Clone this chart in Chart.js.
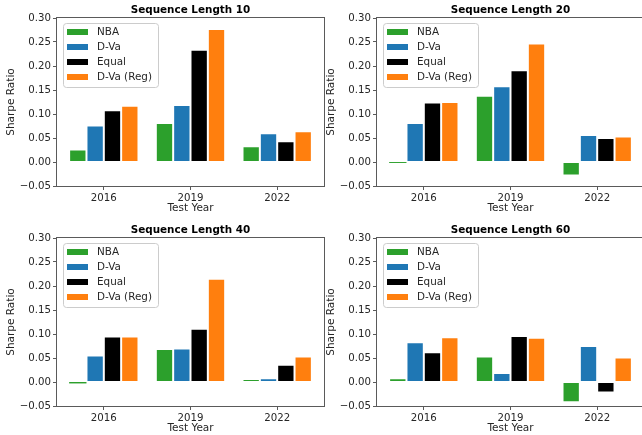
<!DOCTYPE html>
<html>
<head>
<meta charset="utf-8">
<script src="https://cdn.jsdelivr.net/npm/chart.js@4.4.1/dist/chart.umd.min.js"></script>
<style>
  html, body { margin: 0; padding: 0; background: #fff; }
  #wrap { position: relative; width: 642px; height: 435px; overflow: hidden; }
  #wrap canvas { position: absolute; }
</style>
</head>
<body>
<div id="wrap">
  <canvas id="c10" width="330" height="218" style="left:0;top:0"></canvas>
  <canvas id="c20" width="330" height="218" style="left:320px;top:0"></canvas>
  <canvas id="c40" width="330" height="218" style="left:0;top:220px"></canvas>
  <canvas id="c60" width="330" height="218" style="left:320px;top:220px"></canvas>
</div>
<script>
// test years on the x axis
const years = ["2016", "2019", "2022"];
const seriesNames = ["NBA", "D-Va", "Equal", "D-Va (Reg)"];
const yTicks = [-0.05, 0.30];

// Sharpe ratio, sequence length 10
const nba10 = [0.026, 0.081, 0.033];
const dva10 = [0.076, 0.119, 0.060];
const equal10 = [0.108, 0.234, 0.043];
const reg10 = [0.117, 0.277, 0.064];

// sequence length 20
const nba20 = [-0.002, 0.138, -0.028];
const dva20 = [0.081, 0.158, 0.056];
const equal20 = [0.124, 0.191, 0.050];
const reg20 = [0.125, 0.247, 0.053];

// sequence length 40
const nba40 = [-0.003, 0.069, 0.006];
const dva40 = [0.055, 0.070, 0.008];
const equal40 = [0.095, 0.111, 0.036];
const reg40 = [0.095, 0.215, 0.053];

// sequence length 60
const nba60 = [0.008, 0.053, -0.042];
const dva60 = [0.083, 0.019, 0.075];
const equal60 = [0.062, 0.096, -0.022];
const reg60 = [0.093, 0.092, 0.051];

const colors = ["#2ca02c", "#1f77b4", "#000000", "#ff7f0e"];
const textColor = "#262626";
const spineColor = "#5a5a5a";

Chart.defaults.font.family = "'DejaVu Sans', sans-serif";
Chart.defaults.font.size = 10.5;
Chart.defaults.color = textColor;

// title, frame and legend drawn the matplotlib way
const framePlugin = {
    id: "frame",
    afterDatasetsDraw(chart, args, opts) {
        const { ctx, chartArea: a } = chart;
        ctx.save();
        ctx.strokeStyle = spineColor;
        ctx.lineWidth = 1;
        ctx.strokeRect(a.left - 0.5, a.top - 0.5, a.right - a.left + 1, a.bottom - a.top + 1);

        // legend box
        const x = a.left + 6, y = a.top + 5, w = 95, h = 64;
        ctx.beginPath();
        ctx.roundRect(x + 0.5, y + 0.5, w, h, 3);
        ctx.fillStyle = "rgba(255,255,255,0.8)";
        ctx.fill();
        ctx.strokeStyle = "#cccccc";
        ctx.stroke();
        ctx.font = "10.4px 'DejaVu Sans'";
        ctx.textBaseline = "middle";
        chart.data.datasets.forEach((ds, i) => {
            const cy = a.top + 14 + i * 15;
            ctx.fillStyle = ds.backgroundColor;
            ctx.fillRect(x + 4, cy - 3, 21, 6);
            ctx.fillStyle = textColor;
            ctx.fillText(ds.label, x + 34, cy + 0.5);
        });

        // subplot title
        ctx.font = "bold 10.4px 'DejaVu Sans'";
        ctx.fillStyle = "#000";
        ctx.textAlign = "center";
        ctx.fillText(opts.text, (a.left + a.right) / 2, a.top - 7.5);
        ctx.restore();
    }
};

const panels = [
    { id: "c10", seq: 10, series: [nba10, dva10, equal10, reg10] },
    { id: "c20", seq: 20, series: [nba20, dva20, equal20, reg20] },
    { id: "c40", seq: 40, series: [nba40, dva40, equal40, reg40] },
    { id: "c60", seq: 60, series: [nba60, dva60, equal60, reg60] }
];

panels.forEach(p => {
    const ctx = document.getElementById(p.id).getContext("2d");
    new Chart(ctx, {
        type: "bar",
        data: {
            datasets: p.series.map((vals, i) => ({
                label: seriesNames[i],
                data: vals.map((v, j) => ({ x: j, y: v })),
                backgroundColor: colors[i],
                borderColor: "#ffffff",
                // very thin bars would vanish under the white edge
                borderWidth: c => (c.raw && Math.abs(c.raw.y) < 0.005 ? 0 : 1),
                borderSkipped: false,
                categoryPercentage: 0.8,
                barPercentage: 1.0
            }))
        },
        options: {
            responsive: false,
            animation: false,
            devicePixelRatio: 1,
            layout: { padding: { left: 0, right: 6, top: 18, bottom: 0 } },
            plugins: {
                legend: { display: false },
                tooltip: { enabled: false },
                frame: { text: `Sequence Length ${p.seq}` }
            },
            scales: {
                x: {
                    type: "linear",
                    min: -0.54,
                    max: 2.54,
                    offset: false,
                    afterBuildTicks: s => { s.ticks = years.map((y, i) => ({ value: i })); },
                    afterFit: s => { s.height = 32; },
                    ticks: {
                        callback: v => years[v],
                        padding: 2,
                        maxRotation: 0,
                        color: textColor,
                        font: { size: 10.2 }
                    },
                    grid: {
                        display: true,
                        offset: false,
                        drawOnChartArea: false,
                        drawTicks: true,
                        tickLength: 4,
                        color: spineColor
                    },
                    border: { display: false },
                    title: {
                        display: true,
                        text: "Test Year",
                        color: textColor,
                        padding: { top: 0, bottom: 3 }
                    }
                },
                y: {
                    min: yTicks[0],
                    max: yTicks[1],
                    afterFit: s => { s.width = 57; },
                    ticks: {
                        stepSize: 0.05,
                        padding: 2,
                        color: textColor,
                        font: { size: 10.2 },
                        callback: v => v.toFixed(2).replace("-", "\u2212").replace("\u22120.00", "0.00")
                    },
                    grid: {
                        display: true,
                        drawOnChartArea: false,
                        drawTicks: true,
                        tickLength: 4,
                        color: spineColor
                    },
                    border: { display: false },
                    title: {
                        display: true,
                        text: "Sharpe Ratio",
                        color: textColor,
                        padding: { top: 5, bottom: 0 }
                    }
                }
            }
        },
        plugins: [framePlugin]
    });
});
</script>
</body>
</html>
